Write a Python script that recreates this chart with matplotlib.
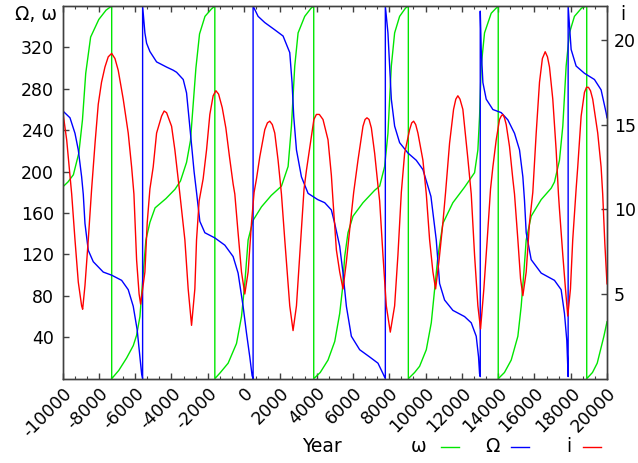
import numpy as np
import matplotlib
matplotlib.use("Agg")
import matplotlib.pyplot as plt
from matplotlib.ticker import MultipleLocator, FuncFormatter
from matplotlib.lines import Line2D

# ---------------- data ----------------
# argument of perihelion omega (deg); wraps 360 -> 0 drawn as vertical jumps
omega_year = [-10000, -9700, -9400, -9100, -8900, -8720, -8450, -8000, -7600, -7290,
              -7290, -6900, -6467, -6100, -5917, -5734, -5553, -5405, -5184, -4900, -4300, -3800,
              -3500, -3165, -2950, -2800, -2650, -2450, -2150, -1800, -1607,
              -1607, -1300, -874, -413, -138, 44, 227, 502, 962, 1500, 2063, 2430, 2614,
              2796, 2980, 3346, 3700, 3842,
              3842, 4200, 4629, 5000, 5273, 5421, 5548, 5730, 6005, 6556, 7199, 7474, 7749,
              7931, 8024, 8117, 8299, 8574, 8900, 9054,
              9054, 9400, 9675, 10044, 10319, 10501, 10683, 10958, 11508, 12152, 12703,
              12886, 12978, 13070, 13252, 13620, 14007,
              14007, 14350, 14722, 15089, 15272, 15416, 15548, 15823, 16374, 16924, 17106,
              17381, 17565, 17749, 17931, 18206, 18600, 18883,
              18883, 19200, 19461, 19829, 20000]
omega_val = [185, 190, 197, 218, 250, 295, 330, 347, 356, 360,
             0, 8, 20, 32, 42, 60, 102, 134, 151, 165, 174, 183,
             191, 209, 230, 265, 300, 333, 350, 357, 360,
             0, 6, 15, 34, 60, 92, 134, 153, 166, 177, 186, 205, 244,
             302, 334, 350, 358, 360,
             0, 6, 18, 36, 63, 86, 118, 141, 157, 170, 182, 186, 205,
             237, 270, 302, 334, 350, 358, 360,
             0, 6, 12, 28, 54, 86, 118, 150, 170, 185, 199,
             221, 253, 302, 334, 353, 360,
             0, 6, 18, 41, 70, 102, 134, 157, 173, 184, 190,
             211, 244, 302, 334, 350, 358, 360,
             0, 6, 15, 41, 55]

# longitude of ascending node Omega (deg); wraps 0 -> 360
node_year = [-10000, -9587, -9312, -9130, -8946, -8855, -8762, -8580, -8305, -7755,
             -7292, -6742, -6379, -6103, -5884, -5735, -5642, -5586,
             -5586, -5460, -5366, -5184, -4816, -4265, -3902, -3715, -3348, -3165, -2950,
             -2750, -2615, -2433, -2157, -1607, -1057, -600, -325, -50, 138, 319, 446, 501,
             501, 776, 1145, 1695, 2153, 2521, 2648, 2741, 2890, 3164, 3531, 4062, 4447,
             4814, 4997, 5273, 5455, 5640, 5915, 6373, 6923, 7381, 7656, 7787,
             7787, 7931, 8024, 8117, 8299, 8574, 9031, 9490, 9857, 10132, 10300, 10593,
             10776, 11051, 11509, 12152, 12520, 12795, 12923, 12978, 13017,
             13017, 13070, 13162, 13345, 13712, 14172, 14538, 14905, 15180, 15364, 15455,
             15548, 15823, 16374, 17106, 17473, 17657, 17785, 17859,
             17859, 18024, 18299, 18758, 19308, 19675, 19950, 20000]
node_val = [259, 252, 237, 221, 195, 178, 150, 124, 113, 103,
            100, 95, 86, 70, 47, 21, 5, 0,
            360, 334, 324, 316, 306, 301, 298, 296, 289, 276, 237,
            200, 180, 152, 141, 136, 129, 118, 102, 70, 44, 21, 3, 0,
            360, 350, 344, 337, 331, 315, 286, 253, 221, 195, 179, 173, 170,
            163, 150, 128, 102, 70, 41, 28, 21, 15, 5, 0,
            360, 334, 302, 270, 244, 228, 218, 211, 202, 186, 176, 134,
            92, 76, 66, 60, 54, 41, 21, 5, 2,
            355, 318, 286, 270, 260, 257, 250, 237, 221, 195, 172,
            141, 115, 102, 95, 86, 63, 37, 2,
            360, 318, 302, 295, 289, 279, 257, 252]

# inclination i (deg)
incl_year = [-10000, -9770, -9587, -9494, -9312, -9130, -8946, -8890, -8762, -8580,
             -8395, -8200, -8030, -7850, -7661, -7480, -7292, -7110, -6929, -6654, -6379, -6192, -6065,
             -5917, -5780, -5696, -5560, -5460, -5333, -5184, -5003, -4816, -4541,
             -4400, -4265, -3990, -3808, -3627, -3533, -3258, -3076, -2890, -2708, -2615,
             -2471, -2251, -2064, -1882, -1700, -1550, -1400, -1200, -1000, -800, -600, -506,
             -341, -138, 44, 227, 413, 556, 688, 870, 1145, 1290, 1420,
             1560, 1695, 1877, 2063, 2246, 2521, 2703, 2890, 3126, 3308, 3440,
             3715, 3850, 3990, 4150, 4353, 4629, 4814, 4904, 5090, 5273, 5455, 5640,
             5823, 6043, 6280, 6555, 6670, 6775, 6890, 7017, 7199, 7381, 7474, 7656,
             7840, 8060, 8299, 8481, 8668, 8850, 9125, 9240, 9346, 9460, 9582, 9857,
             10044, 10226, 10409, 10556, 10738, 10958, 11106, 11326, 11546, 11670, 11783, 11900,
             12058, 12333, 12520, 12703, 12886, 13033, 13215, 13400, 13583, 13712,
             13896, 14078, 14170, 14260, 14350, 14447, 14629, 14810, 14904, 15089, 15237, 15364,
             15548, 15730, 15912, 16099, 16281, 16440, 16595, 16720, 16831, 17013, 17198, 17325,
             17381, 17565, 17712, 17838, 17986, 18112, 18299, 18388, 18575, 18758,
             18870, 18977, 19090, 19213, 19489, 19675, 19763, 19880, 20000]
incl_val = [15.9, 14.1, 12.0, 10.9, 8.2, 5.7, 4.3, 4.1, 5.5, 8.2,
            11.2, 14.0, 16.2, 17.5, 18.4, 19.0, 19.2, 18.9, 18.2, 16.5, 14.5, 12.5, 10.9,
            7.0, 5.0, 4.4, 5.5, 6.3, 9.2, 11.2, 12.5, 14.5, 15.5,
            15.8, 15.7, 14.9, 13.5, 11.8, 10.9, 8.2, 5.3, 3.15, 5.3, 8.2,
            10.5, 11.8, 13.5, 15.6, 16.7, 17.0, 16.8, 16.0, 14.8, 13.1, 11.5, 10.9,
            8.8, 6.3, 5.0, 6.3, 9.2, 11.0, 11.8, 13.1, 14.7, 15.1, 15.2,
            15.0, 14.5, 12.9, 10.9, 8.2, 4.3, 2.84, 4.3, 8.2, 11.2, 12.3,
            14.3, 15.3, 15.6, 15.6, 15.3, 14.1, 12.0, 10.5, 7.6, 6.3, 5.3, 6.9,
            8.8, 11.0, 12.9, 14.9, 15.3, 15.4, 15.3, 14.8, 13.3, 11.4, 10.5, 7.3,
            4.3, 2.75, 4.3, 7.3, 11.0, 13.3, 14.7, 15.1, 15.2, 15.0, 14.5, 12.9,
            10.9, 8.2, 6.3, 5.3, 6.9, 9.2, 11.0, 13.9, 15.9, 16.5, 16.7, 16.5,
            15.9, 13.0, 10.9, 7.3, 4.3, 2.94, 5.3, 8.2, 11.2, 12.5,
            14.1, 15.3, 15.5, 15.6, 15.4, 15.0, 13.7, 11.8, 10.9, 8.2, 5.9, 4.9,
            6.3, 9.2, 11.0, 14.5, 17.5, 18.9, 19.3, 19.0, 18.4, 16.5, 13.5, 10.9,
            10.0, 7.3, 5.3, 3.7, 5.3, 8.2, 11.2, 12.5, 15.5, 16.9,
            17.2, 17.2, 17.0, 16.5, 14.5, 12.5, 10.9, 8.0, 5.6]

x_ticks = list(range(-10000, 20001, 2000))
left_ticks = [40, 80, 120, 160, 200, 240, 280, 320]
right_ticks = [5, 10, 15, 20]

# ---------------- figure ----------------
W, H = 638, 463
fig = plt.figure(figsize=(W / 100, H / 100), dpi=100)
L, R, T, B = 62.5, 607.0, 6.0, 378.7
ax = fig.add_axes([L / W, 1 - B / H, (R - L) / W, (B - T) / H])
ax2 = ax.twinx()

c_green = "#00e600"
c_blue = "#0000ff"
c_red = "#ff0000"

l1, = ax.plot(omega_year, omega_val, color=c_green, lw=1.0, label="ω")
l2, = ax.plot(node_year, node_val, color=c_blue, lw=1.0, label="Ω")
l3, = ax2.plot(incl_year, incl_val, color=c_red, lw=1.0, label="i")

ax.set_xlim(-10000, 20000)
ax.set_ylim(0, 360)
ax2.set_ylim(0, 22)

fs = 12.5
ax.set_xticks(x_ticks)
ax.xaxis.set_minor_locator(MultipleLocator(2000 / 3))
ax.xaxis.set_major_formatter(FuncFormatter(lambda v, p: f"{int(round(v))}"))
ax.set_yticks(left_ticks)
ax2.set_yticks(right_ticks)

edge = "#404040"
for a in (ax, ax2):
    for s in a.spines.values():
        s.set_color(edge)
        s.set_linewidth(1.0)

ax.tick_params(axis="x", which="both", direction="in", top=True, bottom=True,
               color=edge, labelsize=fs, pad=4)
ax.tick_params(axis="x", which="major", length=4, width=1)
ax.tick_params(axis="x", which="minor", length=2.5, width=0.8)
ax.tick_params(axis="y", which="major", direction="in", left=True, right=False,
               length=4, width=1, color=edge, labelsize=fs, pad=6)
ax2.tick_params(axis="y", which="major", direction="in", left=False, right=True,
                length=4, width=1, color=edge, labelsize=fs, pad=5)

for lab in ax.get_xticklabels():
    lab.set_rotation(45)
    lab.set_ha("right")
    lab.set_va("top")
    lab.set_rotation_mode("anchor")

fig.text(36 / W, 1 - 15 / H, "Ω, ω", fontsize=13.5, ha="center", va="center")
fig.text(623 / W, 1 - 15 / H, "i", fontsize=13.5, ha="center", va="center")

ax.set_xlabel("Year", fontsize=13.5)
ax.xaxis.set_label_coords((322 - L) / (R - L), -(447 - B) / (B - T))
ax.xaxis.label.set_va("center")

# gnuplot-style key: right-justified text followed by a line sample
ky = 1 - 447 / H
for lab, col, tx_end, s0 in (("ω", c_green, 426, 441),
                             ("Ω", c_blue, 500, 511),
                             ("i", c_red, 571, 583)):
    fig.text(tx_end / W, ky, lab, fontsize=13.5, ha="right", va="center")
    fig.add_artist(Line2D([s0 / W, (s0 + 18) / W], [ky, ky], color=col, lw=1.0,
                          transform=fig.transFigure))

fig.savefig("out.png", dpi=100)
